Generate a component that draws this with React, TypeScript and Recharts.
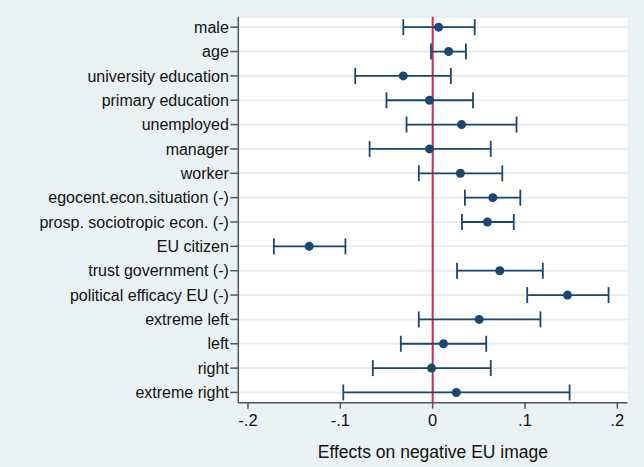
import {
  ScatterChart,
  Scatter,
  XAxis,
  YAxis,
  CartesianGrid,
  ReferenceLine,
  ErrorBar,
  Label,
} from "recharts";

const variables = [
  "male",
  "age",
  "university education",
  "primary education",
  "unemployed",
  "manager",
  "worker",
  "egocent.econ.situation (-)",
  "prosp. sociotropic econ. (-)",
  "EU citizen",
  "trust government (-)",
  "political efficacy EU (-)",
  "extreme left",
  "left",
  "right",
  "extreme right",
];

const estimates = [
  0.0064, 0.0173, -0.0318, -0.0034, 0.0313, -0.0034, 0.03, 0.0651, 0.0593,
  -0.1337, 0.0727, 0.146, 0.0504, 0.0117, -0.0012, 0.0256,
];
const lowerCI = [
  -0.0318, -0.0018, -0.0839, -0.05, -0.0283, -0.0683, -0.015, 0.0349, 0.0317,
  -0.172, 0.0264, 0.1024, -0.015, -0.0345, -0.0648, -0.0968,
];
const upperCI = [
  0.0455, 0.036, 0.0197, 0.0437, 0.0908, 0.0629, 0.0754, 0.0949, 0.0878,
  -0.0945, 0.1193, 0.1905, 0.1167, 0.058, 0.0629, 0.1483,
];

const xTicks = [-0.2, -0.1, 0, 0.1, 0.2];
const xTickLabels = ["-.2", "-.1", "0", ".1", ".2"];

const NAVY = "#1a476f";
const BG = "#eaf2f3";
const FONT = "'Liberation Sans', Arial, Helvetica, sans-serif";

const points = variables.map((name, i) => ({
  name,
  y: i,
  x: estimates[i],
  err: [estimates[i] - lowerCI[i], upperCI[i] - estimates[i]],
}));

export default function App() {
  return (
    <div style={{ width: 644, height: 467, background: BG }}>
      <style>{"body{margin:0}"}</style>
      <ScatterChart
        width={644}
        height={467}
        margin={{ top: 16.7, right: 16.5, bottom: 0, left: 0 }}
      >
        <CartesianGrid
          vertical={false}
          stroke="#e6eef1"
          strokeWidth={2}
          fill="#ffffff"
        />
        <XAxis
          type="number"
          dataKey="x"
          domain={[-0.2105, 0.211]}
          ticks={xTicks}
          allowDataOverflow
          tickFormatter={(v) => xTickLabels[xTicks.indexOf(v)] ?? String(v)}
          height={64.3}
          tickSize={6}
          tickMargin={6}
          axisLine={{ stroke: "#555", strokeWidth: 1.5 }}
          tickLine={{ stroke: "#555", strokeWidth: 1.5 }}
          tick={{ fontSize: 16.5, fill: "#111", fontFamily: FONT }}
        >
          <Label
            value="Effects on negative EU image"
            position="insideBottom"
            offset={9.5}
            style={{
              fontSize: 17.5,
              fill: "#111",
              fontFamily: FONT,
            }}
          />
        </XAxis>
        <YAxis
          type="number"
          dataKey="y"
          domain={[-0.43, 15.42]}
          ticks={variables.map((_, i) => i)}
          reversed
          interval={0}
          allowDataOverflow
          tickFormatter={(v) => variables[v] ?? ""}
          width={238.3}
          tickSize={8}
          tickMargin={1.5}
          axisLine={{ stroke: "#555", strokeWidth: 1.5 }}
          tickLine={{ stroke: "#555", strokeWidth: 1.5 }}
          tick={{ fontSize: 16, fill: "#111", fontFamily: FONT }}
        />
        <ReferenceLine x={0} stroke="#d4264c" strokeWidth={2} />
        <Scatter
          data={points}
          fill={NAVY}
          isAnimationActive={false}
          shape={(props: any) => (
            <circle cx={props.cx} cy={props.cy} r={4.5} fill={NAVY} />
          )}
        >
          <ErrorBar
            dataKey="err"
            direction="x"
            width={8}
            stroke={NAVY}
            strokeWidth={1.8}
          />
        </Scatter>
      </ScatterChart>
    </div>
  );
}
